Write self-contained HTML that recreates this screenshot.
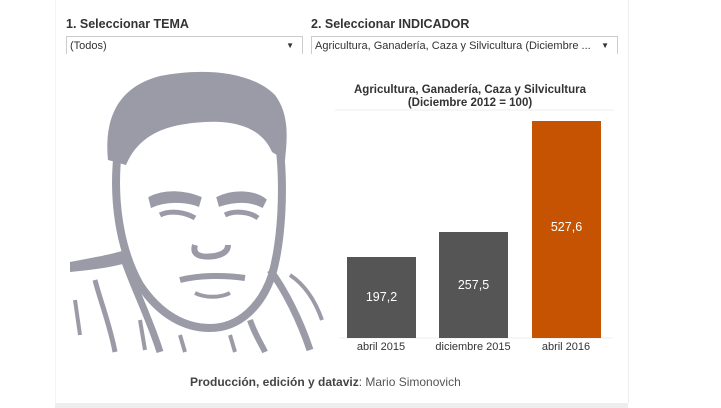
<!DOCTYPE html>
<html><head><meta charset="utf-8"><style>
html,body{margin:0;padding:0;background:#fff;}
body{width:721px;height:408px;position:relative;overflow:hidden;font-family:"Liberation Sans",Arial,sans-serif;}
.panel{position:absolute;left:55px;top:0;width:572px;height:403px;background:#fff;border-right:1px solid #eee;border-left:1px solid #f4f4f4;}
.strip{position:absolute;left:55px;top:403px;width:573px;height:5px;background:#eee;}
.lbl{position:absolute;font-size:12.5px;font-weight:bold;color:#333;}
.sel{position:absolute;height:18px;border:1px solid #ccc;border-bottom:none;font-size:11px;color:#333;line-height:18px;padding-left:3px;box-sizing:border-box;}
.sel span{position:absolute;right:8px;top:0;font-size:8px;}
.bar{position:absolute;color:#fff;font-size:12.5px;text-align:center;}
.xl{position:absolute;font-size:11px;color:#333;text-align:center;width:100px;}
</style></head><body>
<div class="panel"></div>
<div class="strip"></div>
<div class="lbl" style="left:66px;top:17px">1. Seleccionar TEMA</div>
<div class="lbl" style="left:311px;top:17px">2. Seleccionar INDICADOR</div>
<div class="sel" style="left:66px;top:36px;width:237px">(Todos)<span>▼</span></div>
<div class="sel" style="left:311px;top:36px;width:307px">Agricultura, Ganadería, Caza y Silvicultura (Diciembre ...<span>▼</span></div>
<svg style="position:absolute;left:0;top:0" width="721" height="408">
<g fill="#9b9ba8" stroke="#9b9ba8">
<path d="M108,160 C103,110 125,85 160,76 C200,68 250,70 275,95 C290,115 287,140 285,160 L272,152 C262,128 235,120 205,122 C170,124 140,132 126,165 Z" stroke="none"/>
<path d="M118,150 C112,200 120,250 140,285 C160,315 185,328 210,328 C240,328 262,305 272,275 C282,240 284,190 280,150" fill="none" stroke-width="8"/>
<path d="M150,198 C165,190 185,192 200,198 L198,205 C185,200 165,200 152,206 Z" stroke-width="3"/>
<path d="M218,198 C235,190 255,192 265,200 L262,206 C250,200 235,200 220,205 Z" stroke-width="3"/>
<path d="M160,215 C170,210 185,212 195,218" fill="none" stroke-width="5"/>
<path d="M225,215 C235,210 250,212 258,218" fill="none" stroke-width="5"/>
<path d="M195,245 C192,255 200,258 215,256 C225,254 228,250 228,245" fill="none" stroke-width="6"/>
<path d="M180,280 C200,275 225,275 245,278" fill="none" stroke-width="6"/>
<path d="M195,293 C205,298 220,298 230,293" fill="none" stroke-width="4"/>
<path d="M70,262 C90,258 110,255 125,250 L130,262 C110,268 90,270 70,272 Z" stroke="none"/>
<path d="M125,262 C135,290 150,320 160,352" fill="none" stroke-width="7"/>
<path d="M95,280 C100,300 110,325 115,352" fill="none" stroke-width="5"/>
<path d="M270,270 C285,290 300,320 310,350" fill="none" stroke-width="7"/>
<path d="M250,320 C255,335 262,345 265,352" fill="none" stroke-width="6"/>
<path d="M290,275 C305,285 315,300 322,320" fill="none" stroke-width="4"/>
<path d="M75,300 L80,335 M140,320 L145,350 M230,335 L235,352 M180,335 L185,352" stroke-width="4"/>
</g>
<line x1="335" y1="110" x2="614" y2="110" stroke="#eee"/>
<line x1="340" y1="338" x2="612" y2="338" stroke="#eee"/>
<text x="470" y="93" font-size="11.5" font-weight="bold" fill="#333" text-anchor="middle" font-family="Liberation Sans,sans-serif">Agricultura, Ganadería, Caza y Silvicultura</text>
<text x="470" y="106" font-size="11.5" font-weight="bold" fill="#333" text-anchor="middle" font-family="Liberation Sans,sans-serif">(Diciembre 2012 = 100)</text>
</svg>
<div class="bar" style="left:347px;top:257px;width:69px;height:81px;background:#555;line-height:80px">197,2</div>
<div class="bar" style="left:439px;top:232px;width:69px;height:106px;background:#555;line-height:106px">257,5</div>
<div class="bar" style="left:532px;top:121px;width:69px;height:217px;background:#c65301;line-height:213px">527,6</div>
<div class="xl" style="left:331px;top:341px">abril 2015</div>
<div class="xl" style="left:423px;top:341px">diciembre 2015</div>
<div class="xl" style="left:516px;top:341px">abril 2016</div>
<div style="position:absolute;left:190px;top:375px;font-size:12px;color:#555"><b style="color:#444">Producción, edición y dataviz</b>: Mario Simonovich</div>
</body></html>
